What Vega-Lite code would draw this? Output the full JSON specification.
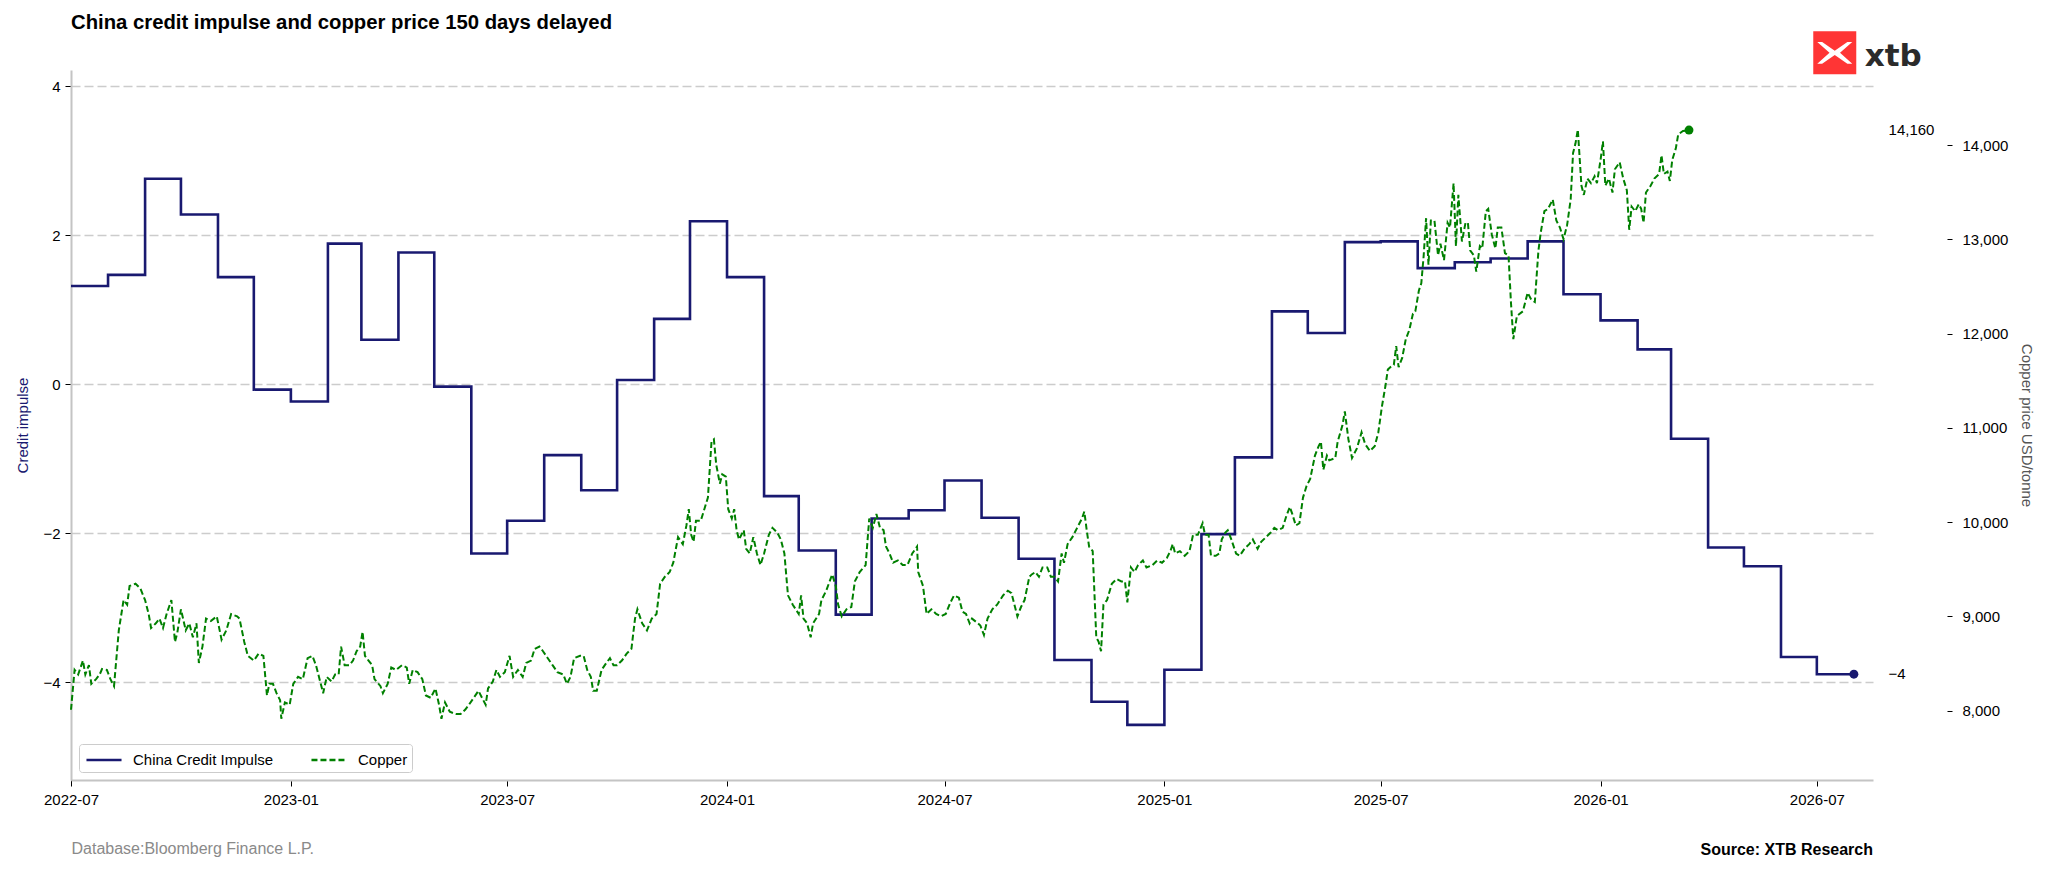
{
  "$schema": "https://vega.github.io/schema/vega-lite/v6.json",
  "width": 1802,
  "height": 710,
  "autosize": {"type": "none"},
  "padding": {"left": 71, "top": 70, "right": 175, "bottom": 93},
  "background": "#ffffff",
  "title": {
    "text": "China credit impulse and copper price 150 days delayed",
    "anchor": "start",
    "frame": "group",
    "font": "Liberation Sans",
    "fontSize": 20.3,
    "fontWeight": "bold",
    "color": "#000000",
    "offset": -2
  },
  "config": {
    "view": {"stroke": null},
    "font": "Liberation Sans",
    "axis": {
      "labelFont": "Liberation Sans",
      "labelFontSize": 15,
      "labelColor": "#000000",
      "tickColor": "#000000",
      "tickSize": 6,
      "tickWidth": 1,
      "domainColor": "#c4c4c4",
      "domainWidth": 2,
      "titleFont": "Liberation Sans",
      "titleFontSize": 15,
      "titleFontWeight": "normal"
    },
    "legend": {
      "title": null,
      "orient": "bottom-left",
      "offset": 8,
      "direction": "horizontal",
      "fillColor": "#ffffff",
      "strokeColor": "#cccccc",
      "cornerRadius": 3,
      "padding": 4,
      "symbolType": "M-1.67,0H1.67",
      "symbolSize": 441,
      "symbolStrokeWidth": 2.5,
      "symbolOffset": 9,
      "labelFontSize": 15,
      "labelFont": "Liberation Sans",
      "labelColor": "#000000",
      "labelOffset": 17,
      "columnPadding": 32
    }
  },
  "datasets": {
    "ci": [
      {"date": "2022-07-01", "value": 1.32, "series": "China Credit Impulse"},
      {"date": "2022-08-01", "value": 1.47, "series": "China Credit Impulse"},
      {"date": "2022-09-01", "value": 2.76, "series": "China Credit Impulse"},
      {"date": "2022-10-01", "value": 2.28, "series": "China Credit Impulse"},
      {"date": "2022-11-01", "value": 1.44, "series": "China Credit Impulse"},
      {"date": "2022-12-01", "value": -0.07, "series": "China Credit Impulse"},
      {"date": "2023-01-01", "value": -0.23, "series": "China Credit Impulse"},
      {"date": "2023-02-01", "value": 1.89, "series": "China Credit Impulse"},
      {"date": "2023-03-01", "value": 0.6, "series": "China Credit Impulse"},
      {"date": "2023-04-01", "value": 1.77, "series": "China Credit Impulse"},
      {"date": "2023-05-01", "value": -0.03, "series": "China Credit Impulse"},
      {"date": "2023-06-01", "value": -2.27, "series": "China Credit Impulse"},
      {"date": "2023-07-01", "value": -1.83, "series": "China Credit Impulse"},
      {"date": "2023-08-01", "value": -0.95, "series": "China Credit Impulse"},
      {"date": "2023-09-01", "value": -1.42, "series": "China Credit Impulse"},
      {"date": "2023-10-01", "value": 0.06, "series": "China Credit Impulse"},
      {"date": "2023-11-01", "value": 0.88, "series": "China Credit Impulse"},
      {"date": "2023-12-01", "value": 2.19, "series": "China Credit Impulse"},
      {"date": "2024-01-01", "value": 1.44, "series": "China Credit Impulse"},
      {"date": "2024-02-01", "value": -1.5, "series": "China Credit Impulse"},
      {"date": "2024-03-01", "value": -2.23, "series": "China Credit Impulse"},
      {"date": "2024-04-01", "value": -3.09, "series": "China Credit Impulse"},
      {"date": "2024-05-01", "value": -1.8, "series": "China Credit Impulse"},
      {"date": "2024-06-01", "value": -1.69, "series": "China Credit Impulse"},
      {"date": "2024-07-01", "value": -1.29, "series": "China Credit Impulse"},
      {"date": "2024-08-01", "value": -1.79, "series": "China Credit Impulse"},
      {"date": "2024-09-01", "value": -2.34, "series": "China Credit Impulse"},
      {"date": "2024-10-01", "value": -3.7, "series": "China Credit Impulse"},
      {"date": "2024-11-01", "value": -4.26, "series": "China Credit Impulse"},
      {"date": "2024-12-01", "value": -4.57, "series": "China Credit Impulse"},
      {"date": "2025-01-01", "value": -3.83, "series": "China Credit Impulse"},
      {"date": "2025-02-01", "value": -2.01, "series": "China Credit Impulse"},
      {"date": "2025-03-01", "value": -0.98, "series": "China Credit Impulse"},
      {"date": "2025-04-01", "value": 0.98, "series": "China Credit Impulse"},
      {"date": "2025-05-01", "value": 0.69, "series": "China Credit Impulse"},
      {"date": "2025-06-01", "value": 1.91, "series": "China Credit Impulse"},
      {"date": "2025-07-01", "value": 1.92, "series": "China Credit Impulse"},
      {"date": "2025-08-01", "value": 1.56, "series": "China Credit Impulse"},
      {"date": "2025-09-01", "value": 1.64, "series": "China Credit Impulse"},
      {"date": "2025-10-01", "value": 1.69, "series": "China Credit Impulse"},
      {"date": "2025-11-01", "value": 1.92, "series": "China Credit Impulse"},
      {"date": "2025-12-01", "value": 1.21, "series": "China Credit Impulse"},
      {"date": "2026-01-01", "value": 0.86, "series": "China Credit Impulse"},
      {"date": "2026-02-01", "value": 0.47, "series": "China Credit Impulse"},
      {"date": "2026-03-01", "value": -0.73, "series": "China Credit Impulse"},
      {"date": "2026-04-01", "value": -2.19, "series": "China Credit Impulse"},
      {"date": "2026-05-01", "value": -2.44, "series": "China Credit Impulse"},
      {"date": "2026-06-01", "value": -3.66, "series": "China Credit Impulse"},
      {"date": "2026-07-01", "value": -3.89, "series": "China Credit Impulse"},
      {"date": "2026-08-01", "value": -3.89, "series": "China Credit Impulse"}
    ],
    "copper": [
      {"date": "2022-07-01", "value": 8010, "series": "Copper"},
      {"date": "2022-07-04", "value": 8433, "series": "Copper"},
      {"date": "2022-07-07", "value": 8384, "series": "Copper"},
      {"date": "2022-07-11", "value": 8532, "series": "Copper"},
      {"date": "2022-07-13", "value": 8384, "series": "Copper"},
      {"date": "2022-07-16", "value": 8483, "series": "Copper"},
      {"date": "2022-07-18", "value": 8285, "series": "Copper"},
      {"date": "2022-07-22", "value": 8335, "series": "Copper"},
      {"date": "2022-07-25", "value": 8384, "series": "Copper"},
      {"date": "2022-07-27", "value": 8443, "series": "Copper"},
      {"date": "2022-07-31", "value": 8433, "series": "Copper"},
      {"date": "2022-08-03", "value": 8335, "series": "Copper"},
      {"date": "2022-08-06", "value": 8260, "series": "Copper"},
      {"date": "2022-08-10", "value": 8853, "series": "Copper"},
      {"date": "2022-08-14", "value": 9174, "series": "Copper"},
      {"date": "2022-08-17", "value": 9125, "series": "Copper"},
      {"date": "2022-08-19", "value": 9323, "series": "Copper"},
      {"date": "2022-08-24", "value": 9347, "series": "Copper"},
      {"date": "2022-08-28", "value": 9298, "series": "Copper"},
      {"date": "2022-09-01", "value": 9174, "series": "Copper"},
      {"date": "2022-09-04", "value": 9026, "series": "Copper"},
      {"date": "2022-09-06", "value": 8878, "series": "Copper"},
      {"date": "2022-09-10", "value": 8927, "series": "Copper"},
      {"date": "2022-09-13", "value": 8977, "series": "Copper"},
      {"date": "2022-09-16", "value": 8878, "series": "Copper"},
      {"date": "2022-09-19", "value": 9026, "series": "Copper"},
      {"date": "2022-09-23", "value": 9174, "series": "Copper"},
      {"date": "2022-09-26", "value": 8730, "series": "Copper"},
      {"date": "2022-09-28", "value": 8829, "series": "Copper"},
      {"date": "2022-10-01", "value": 9076, "series": "Copper"},
      {"date": "2022-10-05", "value": 8853, "series": "Copper"},
      {"date": "2022-10-08", "value": 8927, "series": "Copper"},
      {"date": "2022-10-11", "value": 8779, "series": "Copper"},
      {"date": "2022-10-14", "value": 8927, "series": "Copper"},
      {"date": "2022-10-16", "value": 8507, "series": "Copper"},
      {"date": "2022-10-19", "value": 8680, "series": "Copper"},
      {"date": "2022-10-22", "value": 8977, "series": "Copper"},
      {"date": "2022-10-26", "value": 8952, "series": "Copper"},
      {"date": "2022-10-31", "value": 9001, "series": "Copper"},
      {"date": "2022-11-04", "value": 8754, "series": "Copper"},
      {"date": "2022-11-08", "value": 8853, "series": "Copper"},
      {"date": "2022-11-12", "value": 9026, "series": "Copper"},
      {"date": "2022-11-17", "value": 9001, "series": "Copper"},
      {"date": "2022-11-19", "value": 8977, "series": "Copper"},
      {"date": "2022-11-23", "value": 8730, "series": "Copper"},
      {"date": "2022-11-26", "value": 8582, "series": "Copper"},
      {"date": "2022-12-01", "value": 8532, "series": "Copper"},
      {"date": "2022-12-05", "value": 8606, "series": "Copper"},
      {"date": "2022-12-09", "value": 8582, "series": "Copper"},
      {"date": "2022-12-12", "value": 8162, "series": "Copper"},
      {"date": "2022-12-14", "value": 8285, "series": "Copper"},
      {"date": "2022-12-17", "value": 8285, "series": "Copper"},
      {"date": "2022-12-20", "value": 8186, "series": "Copper"},
      {"date": "2022-12-23", "value": 8112, "series": "Copper"},
      {"date": "2022-12-24", "value": 7915, "series": "Copper"},
      {"date": "2022-12-27", "value": 8088, "series": "Copper"},
      {"date": "2022-12-31", "value": 8063, "series": "Copper"},
      {"date": "2023-01-03", "value": 8285, "series": "Copper"},
      {"date": "2023-01-07", "value": 8359, "series": "Copper"},
      {"date": "2023-01-11", "value": 8335, "series": "Copper"},
      {"date": "2023-01-15", "value": 8557, "series": "Copper"},
      {"date": "2023-01-19", "value": 8582, "series": "Copper"},
      {"date": "2023-01-22", "value": 8483, "series": "Copper"},
      {"date": "2023-01-25", "value": 8335, "series": "Copper"},
      {"date": "2023-01-28", "value": 8186, "series": "Copper"},
      {"date": "2023-01-31", "value": 8359, "series": "Copper"},
      {"date": "2023-02-04", "value": 8310, "series": "Copper"},
      {"date": "2023-02-07", "value": 8384, "series": "Copper"},
      {"date": "2023-02-10", "value": 8384, "series": "Copper"},
      {"date": "2023-02-12", "value": 8680, "series": "Copper"},
      {"date": "2023-02-15", "value": 8483, "series": "Copper"},
      {"date": "2023-02-19", "value": 8483, "series": "Copper"},
      {"date": "2023-02-22", "value": 8532, "series": "Copper"},
      {"date": "2023-02-25", "value": 8631, "series": "Copper"},
      {"date": "2023-02-28", "value": 8680, "series": "Copper"},
      {"date": "2023-03-02", "value": 8838, "series": "Copper"},
      {"date": "2023-03-04", "value": 8582, "series": "Copper"},
      {"date": "2023-03-07", "value": 8532, "series": "Copper"},
      {"date": "2023-03-10", "value": 8483, "series": "Copper"},
      {"date": "2023-03-12", "value": 8335, "series": "Copper"},
      {"date": "2023-03-17", "value": 8260, "series": "Copper"},
      {"date": "2023-03-19", "value": 8186, "series": "Copper"},
      {"date": "2023-03-23", "value": 8285, "series": "Copper"},
      {"date": "2023-03-26", "value": 8458, "series": "Copper"},
      {"date": "2023-03-30", "value": 8433, "series": "Copper"},
      {"date": "2023-04-04", "value": 8483, "series": "Copper"},
      {"date": "2023-04-08", "value": 8458, "series": "Copper"},
      {"date": "2023-04-10", "value": 8285, "series": "Copper"},
      {"date": "2023-04-13", "value": 8433, "series": "Copper"},
      {"date": "2023-04-17", "value": 8409, "series": "Copper"},
      {"date": "2023-04-21", "value": 8335, "series": "Copper"},
      {"date": "2023-04-24", "value": 8162, "series": "Copper"},
      {"date": "2023-04-28", "value": 8137, "series": "Copper"},
      {"date": "2023-05-02", "value": 8236, "series": "Copper"},
      {"date": "2023-05-05", "value": 8063, "series": "Copper"},
      {"date": "2023-05-07", "value": 7915, "series": "Copper"},
      {"date": "2023-05-10", "value": 8088, "series": "Copper"},
      {"date": "2023-05-14", "value": 7989, "series": "Copper"},
      {"date": "2023-05-19", "value": 7964, "series": "Copper"},
      {"date": "2023-05-23", "value": 7964, "series": "Copper"},
      {"date": "2023-05-27", "value": 8013, "series": "Copper"},
      {"date": "2023-05-30", "value": 8063, "series": "Copper"},
      {"date": "2023-06-03", "value": 8137, "series": "Copper"},
      {"date": "2023-06-07", "value": 8211, "series": "Copper"},
      {"date": "2023-06-10", "value": 8137, "series": "Copper"},
      {"date": "2023-06-13", "value": 8063, "series": "Copper"},
      {"date": "2023-06-15", "value": 8236, "series": "Copper"},
      {"date": "2023-06-19", "value": 8310, "series": "Copper"},
      {"date": "2023-06-22", "value": 8433, "series": "Copper"},
      {"date": "2023-06-25", "value": 8359, "series": "Copper"},
      {"date": "2023-06-29", "value": 8409, "series": "Copper"},
      {"date": "2023-07-03", "value": 8582, "series": "Copper"},
      {"date": "2023-07-06", "value": 8359, "series": "Copper"},
      {"date": "2023-07-10", "value": 8433, "series": "Copper"},
      {"date": "2023-07-14", "value": 8359, "series": "Copper"},
      {"date": "2023-07-17", "value": 8507, "series": "Copper"},
      {"date": "2023-07-21", "value": 8532, "series": "Copper"},
      {"date": "2023-07-24", "value": 8656, "series": "Copper"},
      {"date": "2023-07-28", "value": 8680, "series": "Copper"},
      {"date": "2023-07-31", "value": 8631, "series": "Copper"},
      {"date": "2023-08-04", "value": 8557, "series": "Copper"},
      {"date": "2023-08-08", "value": 8483, "series": "Copper"},
      {"date": "2023-08-12", "value": 8409, "series": "Copper"},
      {"date": "2023-08-17", "value": 8384, "series": "Copper"},
      {"date": "2023-08-20", "value": 8285, "series": "Copper"},
      {"date": "2023-08-23", "value": 8359, "series": "Copper"},
      {"date": "2023-08-26", "value": 8557, "series": "Copper"},
      {"date": "2023-08-31", "value": 8582, "series": "Copper"},
      {"date": "2023-09-03", "value": 8582, "series": "Copper"},
      {"date": "2023-09-06", "value": 8433, "series": "Copper"},
      {"date": "2023-09-09", "value": 8359, "series": "Copper"},
      {"date": "2023-09-11", "value": 8211, "series": "Copper"},
      {"date": "2023-09-14", "value": 8211, "series": "Copper"},
      {"date": "2023-09-18", "value": 8433, "series": "Copper"},
      {"date": "2023-09-22", "value": 8507, "series": "Copper"},
      {"date": "2023-09-25", "value": 8557, "series": "Copper"},
      {"date": "2023-09-28", "value": 8483, "series": "Copper"},
      {"date": "2023-10-01", "value": 8483, "series": "Copper"},
      {"date": "2023-10-05", "value": 8532, "series": "Copper"},
      {"date": "2023-10-09", "value": 8606, "series": "Copper"},
      {"date": "2023-10-13", "value": 8656, "series": "Copper"},
      {"date": "2023-10-16", "value": 8977, "series": "Copper"},
      {"date": "2023-10-18", "value": 9076, "series": "Copper"},
      {"date": "2023-10-22", "value": 8927, "series": "Copper"},
      {"date": "2023-10-26", "value": 8853, "series": "Copper"},
      {"date": "2023-10-30", "value": 8977, "series": "Copper"},
      {"date": "2023-11-03", "value": 9026, "series": "Copper"},
      {"date": "2023-11-06", "value": 9347, "series": "Copper"},
      {"date": "2023-11-10", "value": 9421, "series": "Copper"},
      {"date": "2023-11-14", "value": 9471, "series": "Copper"},
      {"date": "2023-11-17", "value": 9570, "series": "Copper"},
      {"date": "2023-11-21", "value": 9841, "series": "Copper"},
      {"date": "2023-11-25", "value": 9767, "series": "Copper"},
      {"date": "2023-11-28", "value": 9965, "series": "Copper"},
      {"date": "2023-11-30", "value": 10138, "series": "Copper"},
      {"date": "2023-12-02", "value": 9866, "series": "Copper"},
      {"date": "2023-12-04", "value": 9792, "series": "Copper"},
      {"date": "2023-12-06", "value": 10014, "series": "Copper"},
      {"date": "2023-12-10", "value": 10014, "series": "Copper"},
      {"date": "2023-12-13", "value": 10138, "series": "Copper"},
      {"date": "2023-12-16", "value": 10261, "series": "Copper"},
      {"date": "2023-12-19", "value": 10854, "series": "Copper"},
      {"date": "2023-12-21", "value": 10879, "series": "Copper"},
      {"date": "2023-12-23", "value": 10607, "series": "Copper"},
      {"date": "2023-12-26", "value": 10409, "series": "Copper"},
      {"date": "2023-12-28", "value": 10508, "series": "Copper"},
      {"date": "2023-12-31", "value": 10483, "series": "Copper"},
      {"date": "2024-01-02", "value": 10138, "series": "Copper"},
      {"date": "2024-01-05", "value": 10039, "series": "Copper"},
      {"date": "2024-01-07", "value": 10138, "series": "Copper"},
      {"date": "2024-01-09", "value": 9915, "series": "Copper"},
      {"date": "2024-01-11", "value": 9817, "series": "Copper"},
      {"date": "2024-01-15", "value": 9915, "series": "Copper"},
      {"date": "2024-01-17", "value": 9718, "series": "Copper"},
      {"date": "2024-01-20", "value": 9668, "series": "Copper"},
      {"date": "2024-01-23", "value": 9841, "series": "Copper"},
      {"date": "2024-01-26", "value": 9668, "series": "Copper"},
      {"date": "2024-01-29", "value": 9545, "series": "Copper"},
      {"date": "2024-02-01", "value": 9668, "series": "Copper"},
      {"date": "2024-02-05", "value": 9866, "series": "Copper"},
      {"date": "2024-02-08", "value": 9940, "series": "Copper"},
      {"date": "2024-02-12", "value": 9890, "series": "Copper"},
      {"date": "2024-02-15", "value": 9817, "series": "Copper"},
      {"date": "2024-02-18", "value": 9668, "series": "Copper"},
      {"date": "2024-02-21", "value": 9224, "series": "Copper"},
      {"date": "2024-02-25", "value": 9125, "series": "Copper"},
      {"date": "2024-03-01", "value": 9026, "series": "Copper"},
      {"date": "2024-03-03", "value": 9224, "series": "Copper"},
      {"date": "2024-03-05", "value": 8977, "series": "Copper"},
      {"date": "2024-03-08", "value": 8927, "series": "Copper"},
      {"date": "2024-03-11", "value": 8779, "series": "Copper"},
      {"date": "2024-03-13", "value": 8927, "series": "Copper"},
      {"date": "2024-03-18", "value": 9026, "series": "Copper"},
      {"date": "2024-03-20", "value": 9174, "series": "Copper"},
      {"date": "2024-03-24", "value": 9273, "series": "Copper"},
      {"date": "2024-03-29", "value": 9446, "series": "Copper"},
      {"date": "2024-04-01", "value": 9323, "series": "Copper"},
      {"date": "2024-04-03", "value": 9125, "series": "Copper"},
      {"date": "2024-04-06", "value": 9001, "series": "Copper"},
      {"date": "2024-04-10", "value": 9076, "series": "Copper"},
      {"date": "2024-04-14", "value": 9100, "series": "Copper"},
      {"date": "2024-04-17", "value": 9372, "series": "Copper"},
      {"date": "2024-04-21", "value": 9471, "series": "Copper"},
      {"date": "2024-04-26", "value": 9545, "series": "Copper"},
      {"date": "2024-04-29", "value": 10039, "series": "Copper"},
      {"date": "2024-05-02", "value": 9940, "series": "Copper"},
      {"date": "2024-05-05", "value": 10088, "series": "Copper"},
      {"date": "2024-05-08", "value": 9940, "series": "Copper"},
      {"date": "2024-05-11", "value": 9915, "series": "Copper"},
      {"date": "2024-05-13", "value": 9742, "series": "Copper"},
      {"date": "2024-05-16", "value": 9668, "series": "Copper"},
      {"date": "2024-05-19", "value": 9570, "series": "Copper"},
      {"date": "2024-05-23", "value": 9594, "series": "Copper"},
      {"date": "2024-05-27", "value": 9545, "series": "Copper"},
      {"date": "2024-05-31", "value": 9545, "series": "Copper"},
      {"date": "2024-06-04", "value": 9668, "series": "Copper"},
      {"date": "2024-06-08", "value": 9742, "series": "Copper"},
      {"date": "2024-06-09", "value": 9471, "series": "Copper"},
      {"date": "2024-06-13", "value": 9323, "series": "Copper"},
      {"date": "2024-06-16", "value": 9026, "series": "Copper"},
      {"date": "2024-06-20", "value": 9076, "series": "Copper"},
      {"date": "2024-06-24", "value": 9026, "series": "Copper"},
      {"date": "2024-06-28", "value": 9001, "series": "Copper"},
      {"date": "2024-07-02", "value": 9026, "series": "Copper"},
      {"date": "2024-07-06", "value": 9150, "series": "Copper"},
      {"date": "2024-07-09", "value": 9224, "series": "Copper"},
      {"date": "2024-07-13", "value": 9199, "series": "Copper"},
      {"date": "2024-07-16", "value": 9051, "series": "Copper"},
      {"date": "2024-07-19", "value": 9026, "series": "Copper"},
      {"date": "2024-07-22", "value": 8927, "series": "Copper"},
      {"date": "2024-07-24", "value": 8977, "series": "Copper"},
      {"date": "2024-07-29", "value": 8927, "series": "Copper"},
      {"date": "2024-07-31", "value": 8903, "series": "Copper"},
      {"date": "2024-08-03", "value": 8804, "series": "Copper"},
      {"date": "2024-08-06", "value": 8977, "series": "Copper"},
      {"date": "2024-08-10", "value": 9076, "series": "Copper"},
      {"date": "2024-08-14", "value": 9125, "series": "Copper"},
      {"date": "2024-08-19", "value": 9224, "series": "Copper"},
      {"date": "2024-08-23", "value": 9273, "series": "Copper"},
      {"date": "2024-08-26", "value": 9248, "series": "Copper"},
      {"date": "2024-08-29", "value": 9100, "series": "Copper"},
      {"date": "2024-08-31", "value": 9001, "series": "Copper"},
      {"date": "2024-09-03", "value": 9100, "series": "Copper"},
      {"date": "2024-09-06", "value": 9174, "series": "Copper"},
      {"date": "2024-09-10", "value": 9421, "series": "Copper"},
      {"date": "2024-09-12", "value": 9446, "series": "Copper"},
      {"date": "2024-09-15", "value": 9471, "series": "Copper"},
      {"date": "2024-09-18", "value": 9421, "series": "Copper"},
      {"date": "2024-09-21", "value": 9520, "series": "Copper"},
      {"date": "2024-09-25", "value": 9520, "series": "Copper"},
      {"date": "2024-09-28", "value": 9421, "series": "Copper"},
      {"date": "2024-10-01", "value": 9421, "series": "Copper"},
      {"date": "2024-10-04", "value": 9372, "series": "Copper"},
      {"date": "2024-10-07", "value": 9668, "series": "Copper"},
      {"date": "2024-10-09", "value": 9570, "series": "Copper"},
      {"date": "2024-10-12", "value": 9767, "series": "Copper"},
      {"date": "2024-10-16", "value": 9841, "series": "Copper"},
      {"date": "2024-10-20", "value": 9940, "series": "Copper"},
      {"date": "2024-10-24", "value": 10039, "series": "Copper"},
      {"date": "2024-10-26", "value": 10113, "series": "Copper"},
      {"date": "2024-10-28", "value": 9915, "series": "Copper"},
      {"date": "2024-10-30", "value": 9742, "series": "Copper"},
      {"date": "2024-11-02", "value": 9693, "series": "Copper"},
      {"date": "2024-11-05", "value": 8779, "series": "Copper"},
      {"date": "2024-11-07", "value": 8730, "series": "Copper"},
      {"date": "2024-11-09", "value": 8631, "series": "Copper"},
      {"date": "2024-11-11", "value": 9125, "series": "Copper"},
      {"date": "2024-11-14", "value": 9174, "series": "Copper"},
      {"date": "2024-11-18", "value": 9347, "series": "Copper"},
      {"date": "2024-11-22", "value": 9397, "series": "Copper"},
      {"date": "2024-11-26", "value": 9372, "series": "Copper"},
      {"date": "2024-11-29", "value": 9372, "series": "Copper"},
      {"date": "2024-12-01", "value": 9150, "series": "Copper"},
      {"date": "2024-12-04", "value": 9520, "series": "Copper"},
      {"date": "2024-12-07", "value": 9471, "series": "Copper"},
      {"date": "2024-12-10", "value": 9545, "series": "Copper"},
      {"date": "2024-12-14", "value": 9594, "series": "Copper"},
      {"date": "2024-12-17", "value": 9520, "series": "Copper"},
      {"date": "2024-12-22", "value": 9545, "series": "Copper"},
      {"date": "2024-12-26", "value": 9594, "series": "Copper"},
      {"date": "2024-12-30", "value": 9570, "series": "Copper"},
      {"date": "2025-01-03", "value": 9619, "series": "Copper"},
      {"date": "2025-01-06", "value": 9693, "series": "Copper"},
      {"date": "2025-01-08", "value": 9767, "series": "Copper"},
      {"date": "2025-01-10", "value": 9668, "series": "Copper"},
      {"date": "2025-01-14", "value": 9693, "series": "Copper"},
      {"date": "2025-01-18", "value": 9644, "series": "Copper"},
      {"date": "2025-01-22", "value": 9693, "series": "Copper"},
      {"date": "2025-01-25", "value": 9866, "series": "Copper"},
      {"date": "2025-01-29", "value": 9866, "series": "Copper"},
      {"date": "2025-02-02", "value": 9989, "series": "Copper"},
      {"date": "2025-02-04", "value": 9866, "series": "Copper"},
      {"date": "2025-02-07", "value": 9866, "series": "Copper"},
      {"date": "2025-02-09", "value": 9644, "series": "Copper"},
      {"date": "2025-02-13", "value": 9644, "series": "Copper"},
      {"date": "2025-02-16", "value": 9668, "series": "Copper"},
      {"date": "2025-02-18", "value": 9817, "series": "Copper"},
      {"date": "2025-02-21", "value": 9890, "series": "Copper"},
      {"date": "2025-02-23", "value": 9915, "series": "Copper"},
      {"date": "2025-02-26", "value": 9817, "series": "Copper"},
      {"date": "2025-03-02", "value": 9668, "series": "Copper"},
      {"date": "2025-03-05", "value": 9644, "series": "Copper"},
      {"date": "2025-03-09", "value": 9718, "series": "Copper"},
      {"date": "2025-03-13", "value": 9767, "series": "Copper"},
      {"date": "2025-03-16", "value": 9817, "series": "Copper"},
      {"date": "2025-03-20", "value": 9718, "series": "Copper"},
      {"date": "2025-03-23", "value": 9792, "series": "Copper"},
      {"date": "2025-03-27", "value": 9841, "series": "Copper"},
      {"date": "2025-03-31", "value": 9890, "series": "Copper"},
      {"date": "2025-04-03", "value": 9940, "series": "Copper"},
      {"date": "2025-04-06", "value": 9915, "series": "Copper"},
      {"date": "2025-04-10", "value": 9940, "series": "Copper"},
      {"date": "2025-04-13", "value": 10063, "series": "Copper"},
      {"date": "2025-04-16", "value": 10162, "series": "Copper"},
      {"date": "2025-04-18", "value": 10088, "series": "Copper"},
      {"date": "2025-04-21", "value": 9965, "series": "Copper"},
      {"date": "2025-04-24", "value": 9989, "series": "Copper"},
      {"date": "2025-04-27", "value": 10261, "series": "Copper"},
      {"date": "2025-04-30", "value": 10385, "series": "Copper"},
      {"date": "2025-05-03", "value": 10459, "series": "Copper"},
      {"date": "2025-05-07", "value": 10706, "series": "Copper"},
      {"date": "2025-05-10", "value": 10805, "series": "Copper"},
      {"date": "2025-05-12", "value": 10854, "series": "Copper"},
      {"date": "2025-05-14", "value": 10557, "series": "Copper"},
      {"date": "2025-05-17", "value": 10706, "series": "Copper"},
      {"date": "2025-05-19", "value": 10656, "series": "Copper"},
      {"date": "2025-05-24", "value": 10681, "series": "Copper"},
      {"date": "2025-05-26", "value": 10854, "series": "Copper"},
      {"date": "2025-05-30", "value": 11027, "series": "Copper"},
      {"date": "2025-06-01", "value": 11175, "series": "Copper"},
      {"date": "2025-06-04", "value": 10879, "series": "Copper"},
      {"date": "2025-06-07", "value": 10681, "series": "Copper"},
      {"date": "2025-06-11", "value": 10780, "series": "Copper"},
      {"date": "2025-06-15", "value": 10953, "series": "Copper"},
      {"date": "2025-06-18", "value": 10829, "series": "Copper"},
      {"date": "2025-06-22", "value": 10755, "series": "Copper"},
      {"date": "2025-06-26", "value": 10805, "series": "Copper"},
      {"date": "2025-06-29", "value": 10950, "series": "Copper"},
      {"date": "2025-07-02", "value": 11224, "series": "Copper"},
      {"date": "2025-07-05", "value": 11447, "series": "Copper"},
      {"date": "2025-07-07", "value": 11620, "series": "Copper"},
      {"date": "2025-07-09", "value": 11644, "series": "Copper"},
      {"date": "2025-07-12", "value": 11669, "series": "Copper"},
      {"date": "2025-07-14", "value": 11867, "series": "Copper"},
      {"date": "2025-07-16", "value": 11644, "series": "Copper"},
      {"date": "2025-07-19", "value": 11743, "series": "Copper"},
      {"date": "2025-07-22", "value": 11941, "series": "Copper"},
      {"date": "2025-07-25", "value": 12040, "series": "Copper"},
      {"date": "2025-07-28", "value": 12212, "series": "Copper"},
      {"date": "2025-07-30", "value": 12237, "series": "Copper"},
      {"date": "2025-08-02", "value": 12459, "series": "Copper"},
      {"date": "2025-08-04", "value": 12534, "series": "Copper"},
      {"date": "2025-08-06", "value": 12830, "series": "Copper"},
      {"date": "2025-08-08", "value": 13225, "series": "Copper"},
      {"date": "2025-08-10", "value": 12731, "series": "Copper"},
      {"date": "2025-08-12", "value": 13200, "series": "Copper"},
      {"date": "2025-08-15", "value": 13200, "series": "Copper"},
      {"date": "2025-08-18", "value": 12830, "series": "Copper"},
      {"date": "2025-08-20", "value": 12953, "series": "Copper"},
      {"date": "2025-08-23", "value": 12781, "series": "Copper"},
      {"date": "2025-08-26", "value": 13176, "series": "Copper"},
      {"date": "2025-08-28", "value": 13126, "series": "Copper"},
      {"date": "2025-08-31", "value": 13596, "series": "Copper"},
      {"date": "2025-09-02", "value": 12928, "series": "Copper"},
      {"date": "2025-09-04", "value": 13472, "series": "Copper"},
      {"date": "2025-09-07", "value": 12978, "series": "Copper"},
      {"date": "2025-09-10", "value": 13176, "series": "Copper"},
      {"date": "2025-09-12", "value": 13176, "series": "Copper"},
      {"date": "2025-09-14", "value": 12880, "series": "Copper"},
      {"date": "2025-09-17", "value": 12830, "series": "Copper"},
      {"date": "2025-09-19", "value": 12657, "series": "Copper"},
      {"date": "2025-09-22", "value": 12928, "series": "Copper"},
      {"date": "2025-09-24", "value": 12904, "series": "Copper"},
      {"date": "2025-09-27", "value": 13299, "series": "Copper"},
      {"date": "2025-09-29", "value": 13324, "series": "Copper"},
      {"date": "2025-10-02", "value": 13052, "series": "Copper"},
      {"date": "2025-10-05", "value": 12904, "series": "Copper"},
      {"date": "2025-10-07", "value": 13126, "series": "Copper"},
      {"date": "2025-10-10", "value": 13126, "series": "Copper"},
      {"date": "2025-10-13", "value": 12855, "series": "Copper"},
      {"date": "2025-10-16", "value": 12830, "series": "Copper"},
      {"date": "2025-10-18", "value": 12336, "series": "Copper"},
      {"date": "2025-10-20", "value": 11941, "series": "Copper"},
      {"date": "2025-10-23", "value": 12188, "series": "Copper"},
      {"date": "2025-10-28", "value": 12237, "series": "Copper"},
      {"date": "2025-11-01", "value": 12435, "series": "Copper"},
      {"date": "2025-11-04", "value": 12361, "series": "Copper"},
      {"date": "2025-11-07", "value": 12336, "series": "Copper"},
      {"date": "2025-11-10", "value": 12880, "series": "Copper"},
      {"date": "2025-11-12", "value": 13077, "series": "Copper"},
      {"date": "2025-11-15", "value": 13299, "series": "Copper"},
      {"date": "2025-11-18", "value": 13324, "series": "Copper"},
      {"date": "2025-11-22", "value": 13423, "series": "Copper"},
      {"date": "2025-11-25", "value": 13200, "series": "Copper"},
      {"date": "2025-11-28", "value": 13126, "series": "Copper"},
      {"date": "2025-12-01", "value": 13003, "series": "Copper"},
      {"date": "2025-12-04", "value": 13151, "series": "Copper"},
      {"date": "2025-12-07", "value": 13423, "series": "Copper"},
      {"date": "2025-12-09", "value": 13917, "series": "Copper"},
      {"date": "2025-12-11", "value": 14016, "series": "Copper"},
      {"date": "2025-12-13", "value": 14164, "series": "Copper"},
      {"date": "2025-12-16", "value": 13571, "series": "Copper"},
      {"date": "2025-12-18", "value": 13472, "series": "Copper"},
      {"date": "2025-12-21", "value": 13645, "series": "Copper"},
      {"date": "2025-12-24", "value": 13596, "series": "Copper"},
      {"date": "2025-12-27", "value": 13670, "series": "Copper"},
      {"date": "2025-12-29", "value": 13596, "series": "Copper"},
      {"date": "2026-01-01", "value": 13843, "series": "Copper"},
      {"date": "2026-01-03", "value": 14040, "series": "Copper"},
      {"date": "2026-01-05", "value": 13571, "series": "Copper"},
      {"date": "2026-01-08", "value": 13645, "series": "Copper"},
      {"date": "2026-01-11", "value": 13497, "series": "Copper"},
      {"date": "2026-01-13", "value": 13744, "series": "Copper"},
      {"date": "2026-01-17", "value": 13818, "series": "Copper"},
      {"date": "2026-01-20", "value": 13645, "series": "Copper"},
      {"date": "2026-01-23", "value": 13522, "series": "Copper"},
      {"date": "2026-01-25", "value": 13102, "series": "Copper"},
      {"date": "2026-01-27", "value": 13349, "series": "Copper"},
      {"date": "2026-01-30", "value": 13299, "series": "Copper"},
      {"date": "2026-02-02", "value": 13373, "series": "Copper"},
      {"date": "2026-02-04", "value": 13324, "series": "Copper"},
      {"date": "2026-02-06", "value": 13176, "series": "Copper"},
      {"date": "2026-02-08", "value": 13497, "series": "Copper"},
      {"date": "2026-02-12", "value": 13571, "series": "Copper"},
      {"date": "2026-02-15", "value": 13645, "series": "Copper"},
      {"date": "2026-02-19", "value": 13694, "series": "Copper"},
      {"date": "2026-02-21", "value": 13892, "series": "Copper"},
      {"date": "2026-02-23", "value": 13694, "series": "Copper"},
      {"date": "2026-02-26", "value": 13719, "series": "Copper"},
      {"date": "2026-02-28", "value": 13620, "series": "Copper"},
      {"date": "2026-03-02", "value": 13843, "series": "Copper"},
      {"date": "2026-03-05", "value": 13966, "series": "Copper"},
      {"date": "2026-03-07", "value": 14114, "series": "Copper"},
      {"date": "2026-03-11", "value": 14150, "series": "Copper"},
      {"date": "2026-03-16", "value": 14160, "series": "Copper"}
    ]
  },
  "encoding": {
    "x": {
      "field": "date",
      "type": "temporal",
      "scale": {
        "type": "utc",
        "domain": [
          {"year": 2022, "month": 7, "date": 1, "utc": true},
          {"year": 2026, "month": 8, "date": 17, "utc": true}
        ]
      },
      "axis": {
        "values": [
          {"year": 2022, "month": 7, "date": 1, "utc": true},
          {"year": 2023, "month": 1, "date": 1, "utc": true},
          {"year": 2023, "month": 7, "date": 1, "utc": true},
          {"year": 2024, "month": 1, "date": 1, "utc": true},
          {"year": 2024, "month": 7, "date": 1, "utc": true},
          {"year": 2025, "month": 1, "date": 1, "utc": true},
          {"year": 2025, "month": 7, "date": 1, "utc": true},
          {"year": 2026, "month": 1, "date": 1, "utc": true},
          {"year": 2026, "month": 7, "date": 1, "utc": true}
        ],
        "labelExpr": "utcFormat(datum.value, '%Y-%m')",
        "grid": false,
        "labelPadding": 6,
        "labelFlush": false,
        "labelOverlap": false,
        "title": "Database:Bloomberg Finance L.P.",
        "titleAnchor": "start",
        "titleAlign": "left",
        "titleX": 0,
        "titleY": 68,
        "titleBaseline": "middle",
        "titleColor": "#8a8a8a",
        "titleFontSize": 16
      }
    }
  },
  "layer": [
    {
      "data": {"name": "ci"},
      "encoding": {
        "y": {
          "field": "value",
          "type": "quantitative",
          "scale": {"domain": [-5.31, 4.22], "nice": false, "zero": false},
          "axis": {
            "orient": "left",
            "values": [-4, -2, 0, 2, 4],
            "title": "Credit impulse",
            "titleColor": "#191970",
            "titlePadding": 12,
            "labelPadding": 5,
            "grid": true,
            "gridColor": "#cccccc",
            "gridDash": [9, 4],
            "gridWidth": 1.3
          }
        }
      },
      "layer": [
        {
          "mark": {"type": "line", "interpolate": "step-after", "strokeWidth": 2.6},
          "encoding": {
            "color": {
              "field": "series",
              "type": "nominal",
              "scale": {"domain": ["China Credit Impulse", "Copper"], "range": ["#191970", "#008000"]}
            },
            "strokeDash": {
              "field": "series",
              "type": "nominal",
              "scale": {"domain": ["China Credit Impulse", "Copper"], "range": [[1, 0], [6, 3]]}
            }
          }
        },
        {
          "transform": [
            {"window": [{"op": "row_number", "as": "rn"}], "sort": [{"field": "date", "order": "descending"}]},
            {"filter": "datum.rn == 1"}
          ],
          "mark": {"type": "circle", "size": 80, "color": "#191970", "opacity": 1}
        },
        {
          "transform": [
            {"window": [{"op": "row_number", "as": "rn"}], "sort": [{"field": "date", "order": "descending"}]},
            {"filter": "datum.rn == 1"}
          ],
          "mark": {"type": "text", "align": "left", "baseline": "middle", "fontSize": 15, "color": "#000000"},
          "encoding": {
            "x": {"datum": {"year": 2026, "month": 8, "date": 30, "utc": true}, "type": "temporal"},
            "text": {"field": "value", "type": "quantitative", "format": ".0f"}
          }
        },
        {
          "transform": [
            {"window": [{"op": "row_number", "as": "rn"}], "sort": [{"field": "date", "order": "descending"}]},
            {"filter": "datum.rn == 1"}
          ],
          "mark": {"type": "square", "size": 1849, "color": "#ff3535", "opacity": 1},
          "encoding": {
            "x": {"datum": {"year": 2026, "month": 7, "date": 16, "utc": true}, "type": "temporal"},
            "y": {"datum": 4.45, "type": "quantitative"}
          }
        },
        {
          "transform": [
            {"window": [{"op": "row_number", "as": "rn"}], "sort": [{"field": "date", "order": "descending"}]},
            {"filter": "datum.rn == 1"}
          ],
          "mark": {"type": "point", "shape": "M-1,-0.62L-0.72,-0.62L0,-0.12L0.72,-0.62L1,-0.62L0.3,0L1,0.62L0.72,0.62L0,0.12L-0.72,0.62L-1,0.62L-0.3,0Z", "filled": true, "size": 1225, "color": "#ffffff", "opacity": 1},
          "encoding": {
            "x": {"datum": {"year": 2026, "month": 7, "date": 16, "utc": true}, "type": "temporal"},
            "y": {"datum": 4.45, "type": "quantitative"}
          }
        },
        {
          "transform": [
            {"window": [{"op": "row_number", "as": "rn"}], "sort": [{"field": "date", "order": "descending"}]},
            {"filter": "datum.rn == 1"}
          ],
          "mark": {"type": "text", "text": "xtb", "align": "left", "baseline": "alphabetic", "font": "DejaVu Sans", "fontSize": 31, "fontWeight": "bold", "color": "#2b2b2b"},
          "encoding": {
            "x": {"datum": {"year": 2026, "month": 8, "date": 10, "utc": true}, "type": "temporal"},
            "y": {"datum": 4.27, "type": "quantitative"}
          }
        },
        {
          "transform": [
            {"window": [{"op": "row_number", "as": "rn"}], "sort": [{"field": "date", "order": "descending"}]},
            {"filter": "datum.rn == 1"}
          ],
          "mark": {"type": "text", "text": "Source: XTB Research", "align": "right", "baseline": "middle", "font": "Liberation Sans", "fontSize": 16, "fontWeight": "bold", "color": "#000000"},
          "encoding": {
            "x": {"datum": {"year": 2026, "month": 8, "date": 17, "utc": true}, "type": "temporal"},
            "y": {"datum": -6.25, "type": "quantitative"}
          }
        }
      ]
    },
    {
      "data": {"name": "copper"},
      "encoding": {
        "y": {
          "field": "value",
          "type": "quantitative",
          "scale": {"domain": [7265, 14797], "nice": false, "zero": false},
          "axis": {
            "orient": "right",
            "offset": 74,
            "values": [8000, 9000, 10000, 11000, 12000, 13000, 14000],
            "labelExpr": "format(datum.value, ',')",
            "domain": false,
            "grid": false,
            "tickSize": 5,
            "labelPadding": 10,
            "title": "Copper price USD/tonne",
            "titleColor": "#555555",
            "titlePadding": 11
          }
        }
      },
      "layer": [
        {
          "mark": {"type": "line", "strokeWidth": 2},
          "encoding": {
            "color": {
              "field": "series",
              "type": "nominal",
              "scale": {"domain": ["China Credit Impulse", "Copper"], "range": ["#191970", "#008000"]}
            },
            "strokeDash": {
              "field": "series",
              "type": "nominal",
              "scale": {"domain": ["China Credit Impulse", "Copper"], "range": [[1, 0], [6, 3]]}
            }
          }
        },
        {
          "transform": [
            {"window": [{"op": "row_number", "as": "rn"}], "sort": [{"field": "date", "order": "descending"}]},
            {"filter": "datum.rn == 1"}
          ],
          "mark": {"type": "circle", "size": 80, "color": "#008000", "opacity": 1}
        },
        {
          "transform": [
            {"window": [{"op": "row_number", "as": "rn"}], "sort": [{"field": "date", "order": "descending"}]},
            {"filter": "datum.rn == 1"}
          ],
          "mark": {"type": "text", "align": "left", "baseline": "middle", "fontSize": 15, "color": "#000000"},
          "encoding": {
            "x": {"datum": {"year": 2026, "month": 8, "date": 30, "utc": true}, "type": "temporal"},
            "text": {"field": "value", "type": "quantitative", "format": ",.0f"}
          }
        }
      ]
    }
  ],
  "resolve": {"scale": {"y": "independent"}}
}
